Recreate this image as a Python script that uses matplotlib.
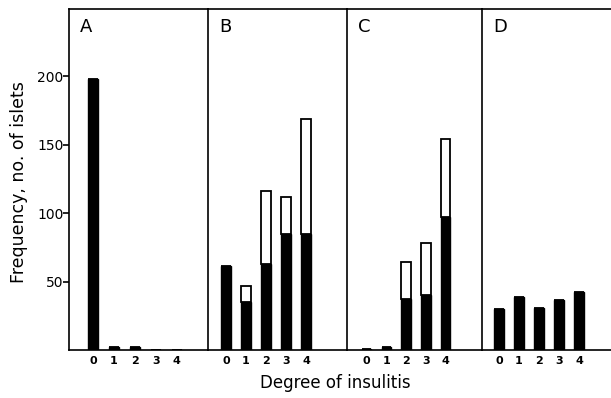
import matplotlib.pyplot as plt

# data
grades = [0, 1, 2, 3, 4]
panels = ['A', 'B', 'C', 'D']
# black part of each bar (per panel)
black_A = [198, 2.5, 2, 0, 0]
black_B = [61, 35, 63, 85, 85]
black_C = [1, 2, 37, 40, 97]
black_D = [30, 39, 31, 36.5, 42]
# full height of each bar (black + open part)
total_A = [198, 2.5, 2, 0, 0]
total_B = [61, 47, 116, 112, 169]
total_C = [1, 2, 64, 78, 154]
total_D = [30, 39, 31, 36.5, 42]
yticks = [50, 100, 150, 200]

blacks = [black_A, black_B, black_C, black_D]
totals = [total_A, total_B, total_C, total_D]

plt.rcParams['font.family'] = ['DejaVu Sans']

W, H = 611, 398
fig = plt.figure(figsize=(W / 100, H / 100), dpi=100)

# panel edges in pixels (left, right) and x-limits
edges = [(69, 208), (208, 347), (347, 482), (482, 621)]
xlims = [(-1.14, 5.48), (-0.9, 6.05), (-1.0, 5.85), (-0.85, 6.1)]
y_bot, y_top = 350, 9

for i, (name, blk, tot) in enumerate(zip(panels, blacks, totals)):
    l, r = edges[i]
    ax = fig.add_axes([l / W, 1 - y_bot / H, (r - l) / W, (y_bot - y_top) / H])
    openpart = [t - b for t, b in zip(tot, blk)]
    ax.bar(grades, blk, width=0.48, color='black', edgecolor='black', linewidth=1)
    ax.bar(grades, openpart, bottom=blk, width=0.48, color='white',
           edgecolor='black', linewidth=1.3)
    ax.set_xlim(*xlims[i])
    ax.set_ylim(0, 249)
    ax.set_xticks(grades)
    ax.set_xticklabels([str(g) for g in grades], fontsize=8, fontweight='bold')
    ax.tick_params(axis='x', length=0, pad=4.5)
    for s in ax.spines.values():
        s.set_linewidth(1.2)
    ax.spines['right'].set_visible(False)
    if i == 0:
        ax.set_yticks(yticks)
        ax.set_yticklabels([str(v) for v in yticks], fontsize=10, fontweight='medium')
        ax.tick_params(axis='y', length=4, width=1.2, pad=0)
    else:
        ax.set_yticks([])
    ax.text(0.08, 0.975, name, transform=ax.transAxes, fontsize=13,
            va='top', ha='left', fontweight='medium')

fig.text(19 / W, 1 - 182 / H, 'Frequency, no. of islets', rotation=90,
         fontsize=12.5, ha='center', va='center')
fig.text(335 / W, 1 - 383 / H, 'Degree of insulitis', fontsize=12,
         ha='center', va='center')

fig.savefig('out.png', dpi=100)
